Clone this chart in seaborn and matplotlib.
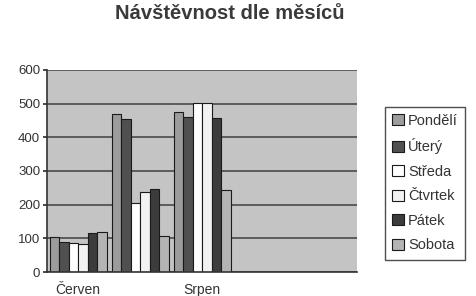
import pandas as pd
import matplotlib
matplotlib.use("Agg")
import matplotlib.pyplot as plt
import seaborn as sns

# hodnoty
months = ["Červen", "Červenec", "Srpen", "Září", "Říjen"]
month_labels = ["Červen", "", "Srpen", "", ""]
days = ["Pondělí", "Úterý", "Středa", "Čtvrtek", "Pátek", "Sobota"]

cerven = [105, 89, 87, 82, 117, 120]
cervenec = [469, 454, 205, 237, 247, 107]
srpen = [474, 460, 502, 502, 457, 244]

day_colors = ["#9c9c9c", "#505050", "#ffffff", "#f2f2f2", "#3c3c3c", "#b4b4b4"]

rows = []
for month, vals in zip(months, [cerven, cervenec, srpen]):
    for day, v in zip(days, vals):
        rows.append({"Měsíc": month, "Den": day, "Návštěvnost": v})
df = pd.DataFrame(rows)

sns.set_theme(style="white")
plt.rcParams["font.family"] = ["Liberation Sans", "DejaVu Sans"]

fig = plt.figure(figsize=(4.76, 2.96), dpi=100)
ax = fig.add_axes([0.099, 0.081, 0.651, 0.683])

sns.barplot(
    data=df, x="Měsíc", y="Návštěvnost", hue="Den",
    order=months, hue_order=days,
    palette=dict(zip(days, day_colors)),
    width=0.92, edgecolor="#1a1a1a", linewidth=0.8,
    errorbar=None, ax=ax, legend=True,
)

ax.set_facecolor("#c4c4c4")
ax.set_ylim(0, 600)
ax.set_xlim(-0.5, len(months) - 0.5)
ax.set_yticks(range(0, 601, 100))
ax.yaxis.grid(True, color="#4a4a4a", linewidth=1.2)
ax.set_axisbelow(True)
for side in ["top", "right"]:
    ax.spines[side].set_visible(False)
for side in ["left", "bottom"]:
    ax.spines[side].set_color("#333333")
    ax.spines[side].set_linewidth(1.2)

ax.set_xticks(range(len(months)))
ax.set_xticklabels(month_labels, fontsize=10, color="#333333")
ax.tick_params(axis="y", labelsize=9.5, colors="#333333", left=True, length=3, pad=2)
ax.tick_params(axis="x", bottom=False, pad=2)
ax.set_xlabel("")
ax.set_ylabel("")

fig.suptitle("Návštěvnost dle měsíců", x=0.483, y=0.985, fontsize=14.5,
             fontweight="bold", color="#3a3a3a")

leg = ax.legend(
    loc="upper left", bbox_to_anchor=(0.808, 0.64), bbox_transform=fig.transFigure,
    fontsize=10.5, frameon=True, fancybox=False, edgecolor="#222222",
    handlelength=0.8, handleheight=0.8, handletextpad=0.3,
    labelspacing=0.72, borderpad=0.5, borderaxespad=0,
)
leg.get_frame().set_linewidth(1.0)
for t in leg.get_texts():
    t.set_color("#333333")

fig.savefig("out.png", dpi=100, facecolor="white")
